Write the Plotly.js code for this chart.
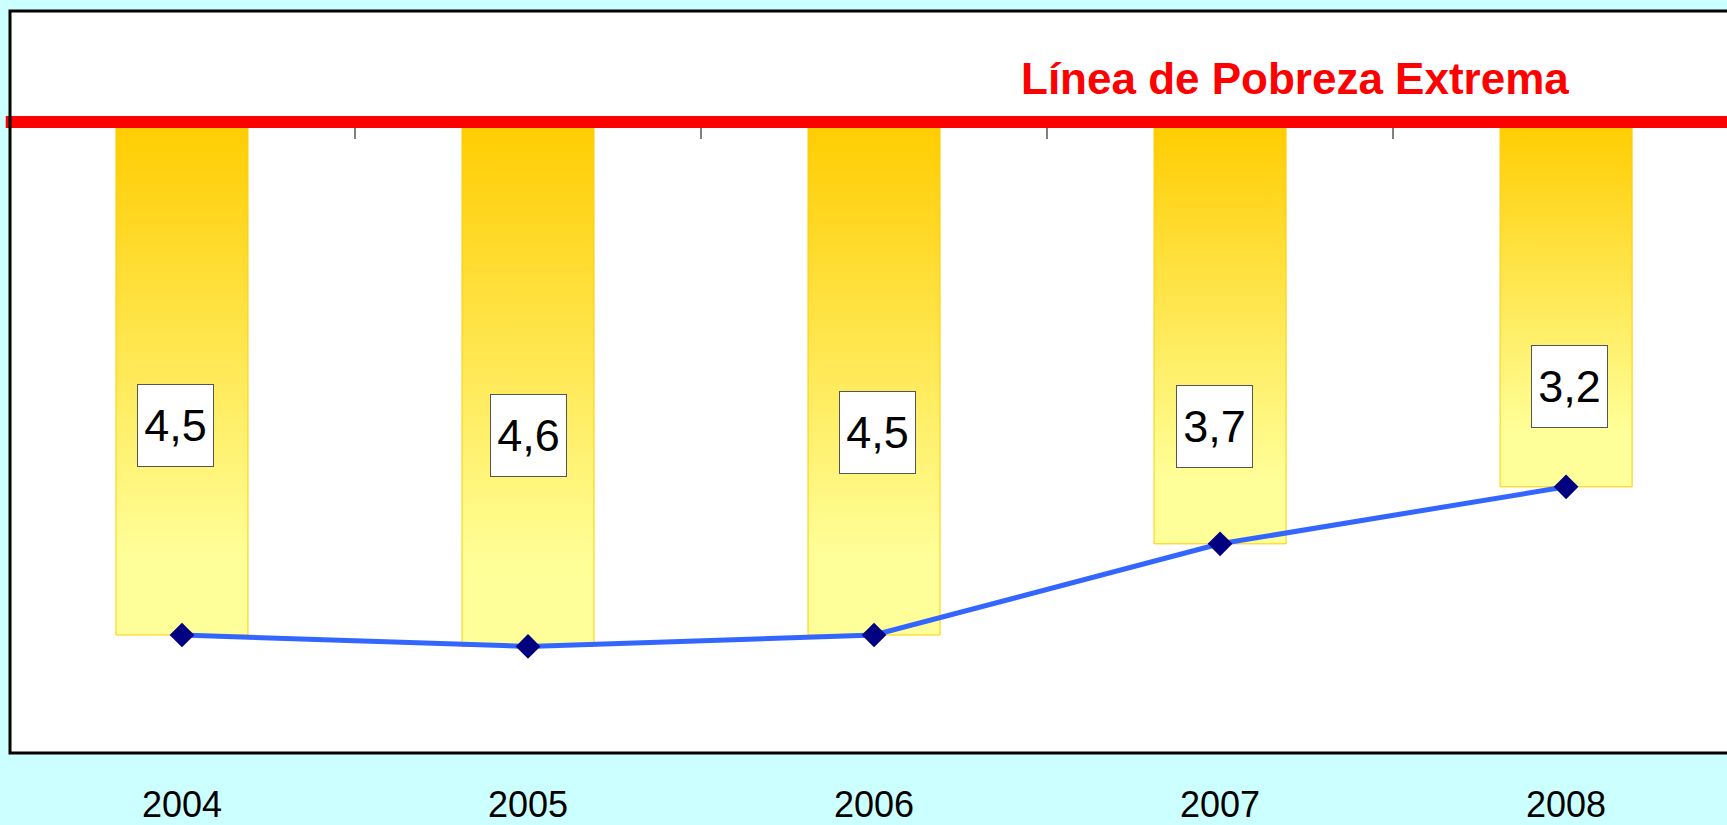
<!DOCTYPE html>
<html>
<head>
<meta charset="utf-8">
<script src="https://cdn.plot.ly/plotly-3.0.1.min.js"></script>
<style>
  html, body { margin: 0; padding: 0; background: #CCFFFF; overflow: hidden; }
  #chart { width: 1727px; height: 825px; }
</style>
</head>
<body>
<div id="chart"></div>
<script>
// ---- data ----
const years = ['2004', '2005', '2006', '2007', '2008'];
const barValues = [4.5, 4.6, 4.5, 3.7, 3.2];
const lineValues = [4.5, 4.6, 4.5, 3.7, 3.2];
const valueLabels = ['4,5', '4,6', '4,5', '3,7', '3,2'];
const lineTitle = 'Línea de Pobreza Extrema';

// ---- layout-only placement of the boxed value labels (data units on y) ----
const labelBoxY = [2.66, 2.75, 2.72, 2.67, 2.32];
const labelShiftX = [-6, 0, 3, -6, 3];

const FONT = 'Arial, "Liberation Sans", Helvetica, sans-serif';

const bars = {
  type: 'bar',
  x: years,
  y: barValues,
  marker: { color: '#FFE45C', line: { color: '#FFCC00', width: 1 } },
  hoverinfo: 'skip',
  showlegend: false
};

const line = {
  type: 'scatter',
  mode: 'lines+markers',
  x: years,
  y: lineValues,
  xaxis: 'x2',
  line: { color: '#3366FF', width: 5 },
  marker: { symbol: 'diamond', size: 19, color: '#000080' },
  hoverinfo: 'skip',
  showlegend: false
};

const xRange = [-0.497, 4.465];
const yRange = [5.535, -0.974];

const annotations = years.map((yr, i) => ({
  x: years.indexOf(yr), y: labelBoxY[i], xref: 'x', yref: 'y',
  text: valueLabels[i],
  showarrow: false,
  xshift: labelShiftX[i],
  font: { family: FONT, size: 45, color: '#000000' },
  bgcolor: '#FFFFFF',
  bordercolor: '#555555',
  borderwidth: 1,
  borderpad: 0,
  width: 75,
  height: 81,
  align: 'center',
  valign: 'middle'
}));

annotations.push({
  xref: 'paper', yref: 'paper',
  x: 0.5877, y: 0.9097,
  xanchor: 'left', yanchor: 'middle',
  text: '<b>' + lineTitle + '</b>',
  showarrow: false,
  font: { family: FONT, size: 44, color: '#FF0000' }
});

const layout = {
  width: 1727,
  height: 825,
  margin: { l: 10, r: 0, t: 11, b: 72, pad: 0 },
  paper_bgcolor: '#CCFFFF',
  plot_bgcolor: '#FFFFFF',
  bargap: 0.6185,
  xaxis: {
    type: 'category',
    categoryorder: 'array',
    categoryarray: years,
    range: xRange,
    showgrid: false,
    zeroline: false,
    showline: false,
    ticks: '',
    ticklabelstandoff: 27,
    tickfont: { family: FONT, size: 36, color: '#000000' },
    fixedrange: true
  },
  xaxis2: {
    type: 'category',
    categoryorder: 'array',
    categoryarray: years,
    overlaying: 'x',
    anchor: 'free',
    position: 0.8504,
    side: 'bottom',
    range: xRange,
    showgrid: false,
    zeroline: false,
    showline: false,
    showticklabels: false,
    ticks: 'outside',
    tickson: 'boundaries',
    ticklen: 16,
    tickwidth: 1.5,
    tickcolor: '#808080',
    fixedrange: true
  },
  yaxis: {
    range: yRange,
    showgrid: false,
    zeroline: false,
    showline: false,
    showticklabels: false,
    ticks: '',
    fixedrange: true
  },
  shapes: [
    {
      type: 'line', xref: 'paper', yref: 'y',
      x0: -0.0025, x1: 1.02, y0: 0, y1: 0,
      line: { color: '#FF0000', width: 12 },
      layer: 'above'
    },
    {
      type: 'rect', xref: 'paper', yref: 'paper',
      x0: 0, x1: 1.05, y0: 0, y1: 1,
      line: { color: '#000000', width: 3 },
      fillcolor: 'rgba(0,0,0,0)',
      layer: 'above'
    }
  ],
  annotations: annotations
};

Plotly.newPlot('chart', [bars, line], layout, { displayModeBar: false, staticPlot: true }).then(gd => {
  const ns = 'http://www.w3.org/2000/svg';
  const svg = gd.querySelector('svg.main-svg');
  let defs = svg.querySelector('defs');
  if (!defs) { defs = document.createElementNS(ns, 'defs'); svg.insertBefore(defs, svg.firstChild); }
  const lg = document.createElementNS(ns, 'linearGradient');
  lg.setAttribute('id', 'barGrad');
  lg.setAttribute('x1', '0'); lg.setAttribute('y1', '0');
  lg.setAttribute('x2', '0'); lg.setAttribute('y2', '1');
  [['0', '#FFCC00'], ['0.85', '#FFFF99'], ['1', '#FFFF99']].forEach(([o, c]) => {
    const s = document.createElementNS(ns, 'stop');
    s.setAttribute('offset', o);
    s.setAttribute('stop-color', c);
    lg.appendChild(s);
  });
  defs.appendChild(lg);
  gd.querySelectorAll('.barlayer .point path').forEach(p => { p.style.fill = 'url(#barGrad)'; });
});
</script>
</body>
</html>
